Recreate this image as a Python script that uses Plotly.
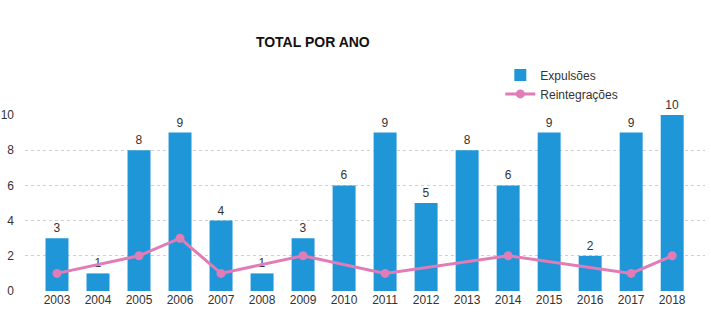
import plotly.graph_objects as go

years = [str(y) for y in range(2003, 2019)]
expulsoes = [3, 1, 8, 9, 4, 1, 3, 6, 9, 5, 8, 6, 9, 2, 9, 10]
reint_years = ["2003", "2005", "2006", "2007", "2009", "2011", "2014", "2017", "2018"]
reintegracoes = [1, 2, 3, 1, 2, 1, 2, 1, 2]

BLUE = "#1e96d8"
PINK = "#e27cb6"
FONT = "Liberation Sans, Arial, sans-serif"

fig = go.Figure()
fig.add_trace(go.Bar(
    x=years, y=expulsoes, name="Expulsões",
    marker=dict(color=BLUE, line=dict(width=0)),
    text=[str(v) for v in expulsoes], textposition="outside",
    textfont=dict(family=FONT, size=12, color="#333333"),
    cliponaxis=False,
))
fig.add_trace(go.Scatter(
    x=reint_years, y=reintegracoes, name="Reintegrações",
    mode="lines+markers",
    line=dict(color=PINK, width=3),
    marker=dict(color=PINK, size=9),
    cliponaxis=False,
))
for x, v in zip(reint_years, reintegracoes):
    fig.add_annotation(x=x, y=v, text=str(v), showarrow=False, yshift=8,
                       font=dict(family=FONT, size=12, color="#333333"))

fig.update_layout(
    width=711, height=333,
    margin=dict(l=25, r=6, t=115, b=42, autoexpand=False),
    paper_bgcolor="white", plot_bgcolor="white",
    bargap=0.44,
    font=dict(family=FONT, size=12, color="#333333"),
    title=dict(text="<b>TOTAL POR ANO</b>", x=0.44, xanchor="center",
               y=0.875, yanchor="middle",
               font=dict(family=FONT, size=14, color="#111111")),
    legend=dict(x=0.699, y=1.31, xanchor="left", yanchor="top",
                xref="paper", yref="paper",
                font=dict(family=FONT, size=12, color="#333333"),
                bgcolor="rgba(0,0,0,0)", tracegroupgap=0, itemwidth=30),
    showlegend=True,
    xaxis=dict(type="category", range=[-0.78, 15.8], showgrid=False,
               showline=False, zeroline=False, ticks="", tickangle=0,
               tickfont=dict(family=FONT, size=12, color="#333333")),
    yaxis=dict(range=[0, 10], dtick=2, showgrid=True, gridcolor="#d0d0d0",
               griddash="dot", gridwidth=1, zeroline=False, showline=False,
               ticks="", ticklabelstandoff=10,
               tickfont=dict(family=FONT, size=12, color="#333333")),
)
fig.write_html("out.html")
